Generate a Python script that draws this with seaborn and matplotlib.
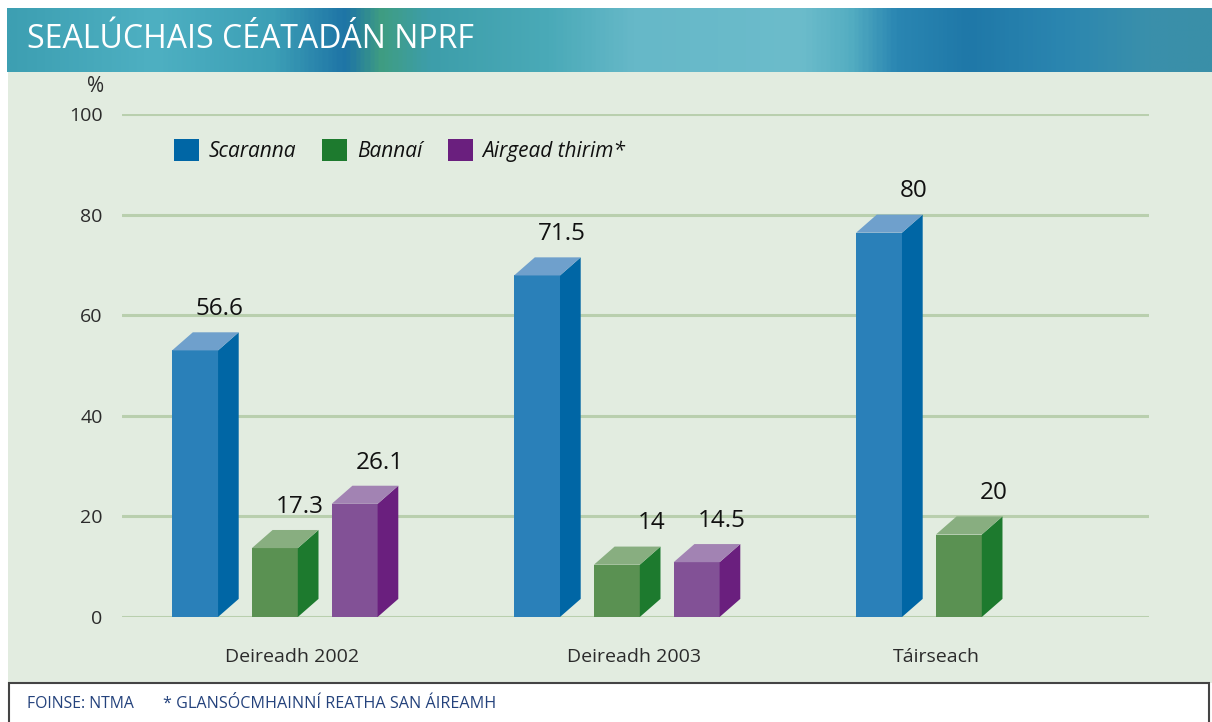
import numpy as np
import pandas as pd
import seaborn as sns
import matplotlib.pyplot as plt
from matplotlib.patches import Polygon, Patch, Rectangle
from matplotlib.colors import LinearSegmentedColormap

# data
categories = ["Deireadh 2002", "Deireadh 2003", "Táirseach"]
series = ["Scaranna", "Bannaí", "Airgead thirim*"]
scaranna = [56.6, 71.5, 80]
bannai = [17.3, 14, 20]
airgead = [26.1, 14.5, None]
y_ticks = [0, 20, 40, 60, 80, 100]

title = "SEALÚCHAIS CÉATADÁN NPRF"
footer_source = "FOINSE: NTMA"
footer_note = "* GLANSÓCMHAINNÍ REATHA SAN ÁIREAMH"

# colours: front face, side face, top face
front_colors = ["#2a80b9", "#5a9152", "#825196"]
side_colors = ["#0066a5", "#1d7a2e", "#6a1f7e"]
top_colors = ["#6fa0cc", "#88ae80", "#a283b3"]
bg_green = "#e2ece0"
grid_green = "#b9cfae"

rows = []
for name, vals in zip(series, [scaranna, bannai, airgead]):
    for cat, v in zip(categories, vals):
        if v is not None:
            rows.append({"cat": cat, "series": name, "val": v})
df = pd.DataFrame(rows)

sns.set_style("white")
plt.rcParams["font.family"] = ["Open Sans", "DejaVu Sans"]

W, H = 1212, 722
fig = plt.figure(figsize=(W / 100, H / 100), dpi=100)
fig.patch.set_facecolor("white")

# light green panel
fig.patches.append(Rectangle((8 / W, 1 - 683 / H), 1 - 8 / W, (683 - 72) / H,
                             transform=fig.transFigure, facecolor=bg_green,
                             edgecolor="none", zorder=-5))

# header band (smooth stand-in for the painted texture)
hax = fig.add_axes([7 / W, 1 - 72 / H, 1 - 7 / W, 64 / H])
stops = [(0.0, "#3d9fb2"), (0.12, "#4eb0c2"), (0.22, "#3c9fb6"), (0.28, "#1e74a6"),
         (0.31, "#3f9d82"), (0.35, "#3d9eaa"), (0.45, "#4aaab8"), (0.52, "#66b8c8"),
         (0.66, "#6cbccb"), (0.70, "#55aec2"), (0.74, "#2a86b2"), (0.80, "#1f78a8"),
         (0.88, "#2b86b0"), (0.95, "#3a90ab"), (1.0, "#3a8fa8")]
cmap = LinearSegmentedColormap.from_list("hdr", stops)
grad = np.linspace(0, 1, 600)[None, :].repeat(10, axis=0)
hax.imshow(grad, aspect="auto", cmap=cmap, extent=[0, 1, 0, 1])
hax.set_axis_off()
fig.text(27 / W, 1 - 39 / H, title, color="white", fontsize=23,
         ha="left", va="center")

# main plot
ax = fig.add_axes([122 / W, 1 - 617 / H, (1149 - 122) / W, (617 - 114) / H])
ax.patch.set_alpha(0)
sns.barplot(data=df, x="cat", y="val", hue="series", order=categories,
            hue_order=series, palette=front_colors, saturation=1,
            width=0.7, gap=0.425, errorbar=None, legend=False, ax=ax,
            linewidth=0, edgecolor="none", zorder=3)

ax.set_ylim(0, 100)
ax.set_xlim(-0.447, 2.556)
ax.set_yticks(y_ticks)
ax.yaxis.grid(True, color=grid_green, lw=2.2)
ax.xaxis.grid(False)
ax.set_axisbelow(True)
for s in ax.spines.values():
    s.set_visible(False)
ax.tick_params(axis="y", length=0, pad=14, labelsize=14, labelcolor="#2b2b2b")
ax.tick_params(axis="x", length=0, pad=22, labelsize=14, labelcolor="#2b2b2b")
ax.set_xlabel("")
ax.set_ylabel("")

# 3d look: depth of the bars in data units
dx, dy = 0.0605, 3.6
centers = {}
for i, cont in enumerate(ax.containers):
    for bar in cont:
        x, w, h = bar.get_x(), bar.get_width(), bar.get_height()
        bar.set_height(h - dy)
        side = [(x + w, 0), (x + w + dx, dy), (x + w + dx, h), (x + w, h - dy)]
        top = [(x, h - dy), (x + dx, h), (x + w + dx, h), (x + w, h - dy)]
        ax.add_patch(Polygon(side, closed=True, facecolor=side_colors[i],
                             edgecolor="none", zorder=3))
        ax.add_patch(Polygon(top, closed=True, facecolor=top_colors[i],
                             edgecolor="none", zorder=3))
        ax.text(x + w + dx + 0.015, h + 3.4, f"{h:g}", ha="right",
                va="baseline", fontsize=17.5, color="#111111", zorder=4)
        centers.setdefault(round(x + w / 2), []).append(x + w / 2)

# category labels centred under the drawn bars
tick_pos = [np.mean(v) + 0.05 for k, v in sorted(centers.items())]
ax.set_xticks(tick_pos)
ax.set_xticklabels(categories)

ax.text(-0.017, 1.054, "%", transform=ax.transAxes, ha="right", va="center",
        fontsize=15, color="#2b2b2b")

# legend
handles = [Patch(facecolor=c, edgecolor="none") for c in side_colors]
leg = ax.legend(handles, series, loc="upper left", bbox_to_anchor=(0.043, 0.967),
                ncol=3, frameon=False, handlelength=1.2, handleheight=1.25,
                handletextpad=0.45, columnspacing=1.25, borderaxespad=0,
                prop={"style": "italic", "size": 15})
for t in leg.get_texts():
    t.set_color("#111111")

# footer
fig.patches.append(Rectangle((9 / W, -0.01), 1200 / W, (722 - 683) / H + 0.01,
                             transform=fig.transFigure, facecolor="white",
                             edgecolor="#444444", lw=1.5, zorder=1))
fig.text(27 / W, 1 - 704 / H, footer_source, color="#24427c", fontsize=11.3,
         ha="left", va="center")
fig.text(163 / W, 1 - 704 / H, footer_note, color="#24427c", fontsize=11.6,
         ha="left", va="center")

fig.savefig("out.png", dpi=100)
